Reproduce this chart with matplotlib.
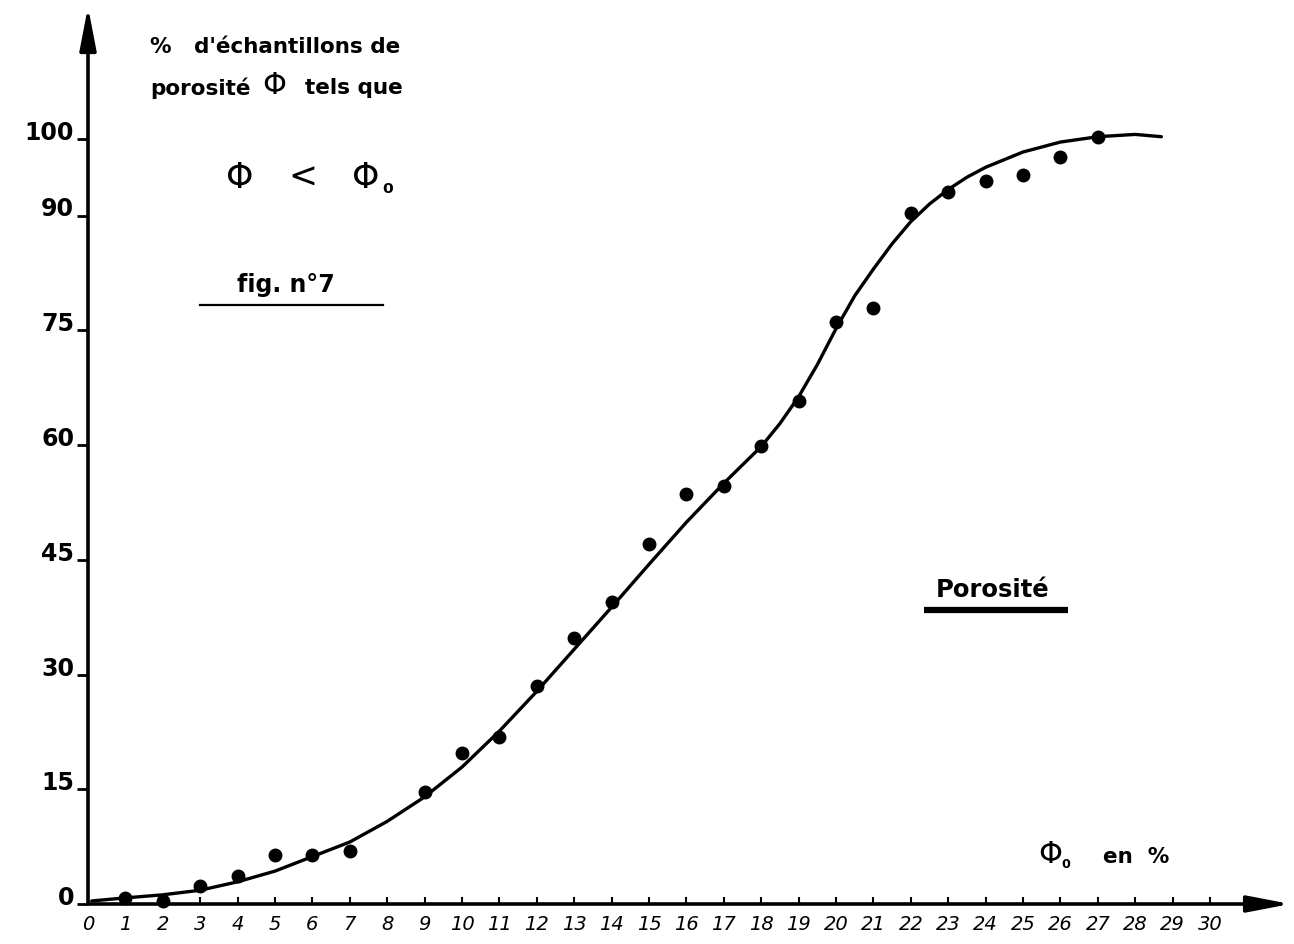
import matplotlib
matplotlib.use("Agg")
import matplotlib.pyplot as plt

# ---- data ----
phi_pts = [1, 2, 3, 4, 5, 6, 7, 9, 10, 11, 12, 13, 14, 15, 16, 17, 18, 19, 20, 21, 22, 23, 24, 25, 26, 27]
pct_pts = [0.8, 0.4, 2.3, 3.6, 6.4, 6.4, 6.9, 14.7, 19.8, 21.8, 28.5, 34.8, 39.5, 47.1, 53.6, 54.6, 59.9, 65.8, 76.1, 77.9, 90.3, 93.1, 94.5, 95.3, 97.6, 100.3]

curve_x = [0.1, 1, 2, 3, 4, 5, 6, 7, 8, 9, 10, 11, 12, 13, 14, 15, 16, 17, 18, 18.5, 19, 19.5, 20, 20.5,
           21, 21.5, 22, 22.5, 23, 23.5, 24, 25, 26, 27, 28, 28.7]
curve_y = [0.4, 0.8, 1.2, 1.8, 2.9, 4.3, 6.2, 8.1, 10.8, 14.0, 17.9, 22.6, 27.8, 33.3, 38.8, 44.4, 49.9,
           55.0, 59.8, 62.8, 66.3, 70.5, 75.2, 79.5, 83.0, 86.3, 89.2, 91.5, 93.4, 95.0, 96.3, 98.3, 99.6,
           100.3, 100.6, 100.3]

y_ticks = [0, 15, 30, 45, 60, 75, 90, 100]
y_labels = ["0", "15", "30", "45", "60", "75", "90", "100"]
x_ticks = list(range(0, 31))
x_labels = [str(v) for v in x_ticks]

W, H = 1294, 945
fig = plt.figure(figsize=(W / 100, H / 100), dpi=100)
fig.patch.set_facecolor("white")

def fx(px):
    return px / W

def fy(py):
    return 1 - py / H

x0, x30 = 88, 1210
y0, y100 = 905, 140
ax = fig.add_axes([fx(x0), fy(y0), (x30 - x0) / W, (y0 - y100) / H])
ax.set_xlim(0, 30)
ax.set_ylim(0, 100)
for s in ax.spines.values():
    s.set_visible(False)
ax.set_facecolor("none")

# axes with arrows
arrow_style = "-|>,head_length=2.6,head_width=0.5"
ax.annotate("", xy=(0, 117.3), xytext=(0, 0), annotation_clip=False,
            arrowprops=dict(arrowstyle=arrow_style, lw=2.6, color="black", shrinkA=0, shrinkB=0))
ax.annotate("", xy=(32.15, 0), xytext=(0, 0), annotation_clip=False,
            arrowprops=dict(arrowstyle=arrow_style, lw=2.6, color="black", shrinkA=0, shrinkB=0))

# ticks
ax.set_yticks(y_ticks)
ax.set_yticklabels(y_labels, fontsize=17, fontweight="bold")
ax.tick_params(axis="y", direction="out", length=8, width=2, pad=2)
for lab in ax.get_yticklabels():
    lab.set_va("baseline")

ax.set_xticks(x_ticks)
ax.set_xticklabels(x_labels, fontsize=14, fontstyle="italic")
ax.tick_params(axis="x", direction="in", length=5, width=1.5, pad=7)

# curve and points
ax.plot(curve_x, curve_y, color="black", lw=2.4, solid_capstyle="round", solid_joinstyle="round",
        clip_on=False, zorder=3)
ax.plot(phi_pts, pct_pts, "o", color="black", ms=9, clip_on=False, zorder=4)

# annotations
tk = dict(color="black", fontsize=15.5, fontweight="bold", family="DejaVu Sans")
fig.text(fx(150), fy(47), "%   d'échantillons de", va="center", ha="left", **tk)
fig.text(fx(150), fy(88), "porosité", va="center", ha="left", **tk)
fig.text(fx(274), fy(86), "Φ", va="center", ha="center", color="black", fontsize=22)
fig.text(fx(305), fy(88), "tels que", va="center", ha="left", **tk)
fig.text(fx(240), fy(178), "Φ", va="center", ha="center", color="black", fontsize=25)
fig.text(fx(303), fy(178), "<", va="center", ha="center", color="black", fontsize=25)
fig.text(fx(366), fy(178), "Φ", va="center", ha="center", color="black", fontsize=25)
fig.text(fx(382), fy(193), "₀", va="baseline", ha="left", color="black", fontsize=18, fontweight="bold")

fig.text(fx(286), fy(285), "fig. n°7", va="center", ha="center", color="black", fontsize=17,
         fontweight="bold")
fig.add_artist(plt.Line2D([fx(200), fx(383)], [fy(306), fy(306)], color="black", lw=1.6))

fig.text(fx(993), fy(590), "Porosité", va="center", ha="center", color="black", fontsize=17.5,
         fontweight="bold")
fig.add_artist(plt.Line2D([fx(924), fx(1068)], [fy(611), fy(611)], color="black", lw=4.5,
                          solid_capstyle="butt"))

fig.text(fx(1050), fy(855), "Φ", va="center", ha="center", color="black", fontsize=22)
fig.text(fx(1061), fy(868), "₀", va="baseline", ha="left", color="black", fontsize=15, fontweight="bold")
fig.text(fx(1103), fy(857), "en  %", va="center", ha="left", **tk)

fig.savefig("out.png", dpi=100, facecolor="white")
